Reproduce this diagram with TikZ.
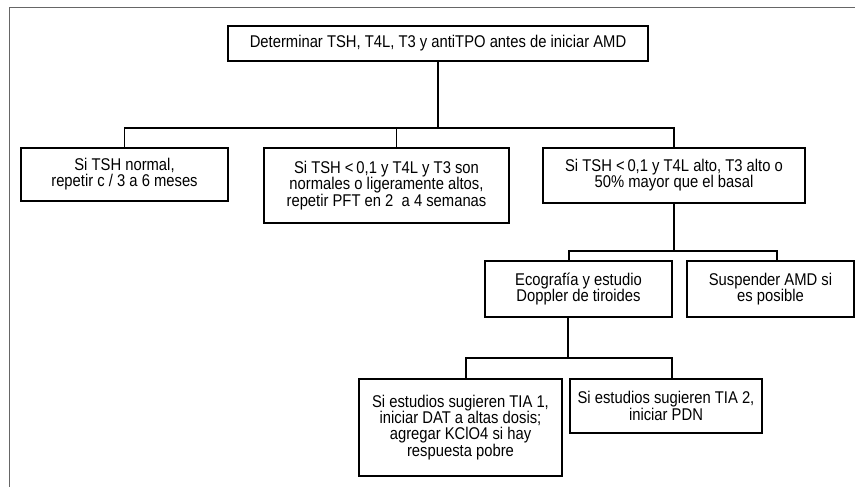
\documentclass[tikz,border=0pt]{standalone}
\usepackage{fontspec}
\setmainfont[FakeStretch=0.87]{Liberation Sans}
\begin{document}
\begin{tikzpicture}[x=1pt,y=-1pt,
  box/.style={draw=black,line width=1.4pt,align=center,inner sep=0pt,
    font=\fontsize{17}{16.2}\selectfont},
  link/.style={draw=black,line width=1.4pt},
  frame/.style={draw=black!60,line width=1pt}]
\useasboundingbox (0,0) rectangle (855,487);
\draw[frame] (9,487) -- (9,8) -- (855,8);

\node[box,minimum width=420,minimum height=35] (top) at (438,43.5)
  {Determinar TSH, T4L, T3 y antiTPO antes de iniciar AMD};
\node[box,minimum width=207,minimum height=53] (left) at (124.5,174.5)
  {Si TSH normal,\\repetir c / 3 a 6 meses};
\node[box,minimum width=245,minimum height=75] (mid) at (386.5,185.5)
  {Si TSH <\,0,1 y T4L y T3 son\\normales o ligeramente altos,\\repetir PFT en 2\ \ a 4 semanas};
\node[box,minimum width=262,minimum height=55] (right) at (674,175.5)
  {Si TSH <\,0,1 y T4L alto, T3 alto o\\50\% mayor que el basal};
\node[box,minimum width=187,minimum height=56] (eco) at (578.5,289)
  {Ecografía y estudio\\Doppler de tiroides};
\node[box,minimum width=167,minimum height=56] (susp) at (770.5,289)
  {Suspender AMD si\\es posible};
\node[box,minimum width=203,minimum height=97] (tia1) at (460.5,427.5)
  {Si estudios sugieren TIA 1,\\iniciar DAT a altas dosis;\\agregar KClO4 si hay\\respuesta pobre};
\node[box,minimum width=192,minimum height=54] (tia2) at (666,406)
  {Si estudios sugieren TIA 2,\\iniciar PDN};

% level 1
\coordinate (b1) at (438,128);
\coordinate (m1) at (396.5,128);
\draw[link] (top.south) -- (b1);
\draw[link] (left.north) -- (left.north |- b1) -- (right.north |- b1) -- (right.north);
\draw[link] (m1) -- (m1 |- mid.north);

% level 2
\coordinate (b2a) at (569,251);
\coordinate (b2b) at (777,251);
\draw[link] (right.south) -- (right.south |- b2a);
\draw[link] (b2a |- eco.north) -- (b2a) -- (b2b) -- (b2b |- susp.north);

% level 3
\coordinate (b3) at (568,358);
\coordinate (b3a) at (466,358);
\coordinate (b3b) at (672,358);
\draw[link] (b3 |- eco.south) -- (b3);
\draw[link] (b3a |- tia1.north) -- (b3a) -- (b3b) -- (b3b |- tia2.north);
\end{tikzpicture}
\end{document}
